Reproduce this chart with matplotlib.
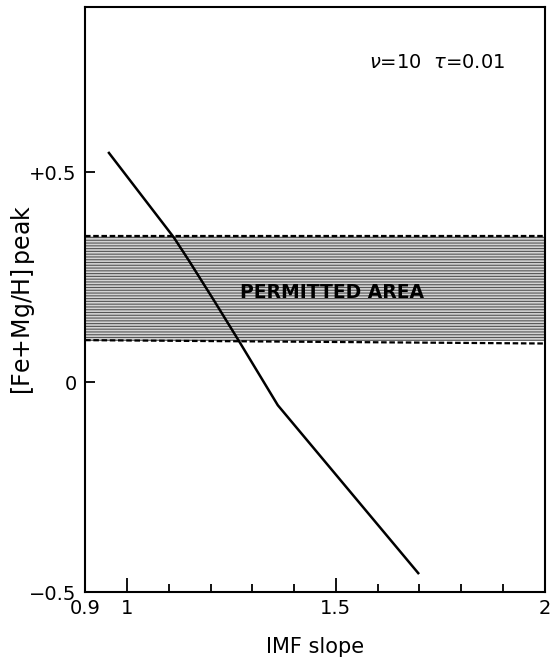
import matplotlib.pyplot as plt
import numpy as np
from matplotlib.ticker import MultipleLocator

# curve
imf_slope = [0.957, 1.112, 1.148, 1.208, 1.268, 1.361, 1.697]
fe_mg_peak = [0.546, 0.345, 0.290, 0.195, 0.098, -0.055, -0.455]

# permitted band
band_low = 0.097
band_high = 0.348

x_ticks = [0.9, 1.0, 1.5, 2.0]
x_tick_labels = ["0.9", "1", "1.5", "2"]
y_ticks = [-0.5, 0.0, 0.5]
y_tick_labels = ["\u22120.5", "0", "+0.5"]

plt.rcParams['font.family'] = ['DejaVu Sans']
plt.rcParams['hatch.color'] = '#555555'
plt.rcParams['hatch.linewidth'] = 0.8

fig = plt.figure(figsize=(5.6, 6.6), dpi=100)
ax = fig.add_axes([0.152, 0.103, 0.821, 0.886])

ax.set_xlim(0.9, 2.0)
ax.set_ylim(-0.5, 0.893)

# band with horizontal hatching
xs = np.array([0.9, 2.0])
ax.fill_between(xs, band_low, band_high, facecolor='#d4d4d4', edgecolor='none',
                hatch='------', zorder=1)
ax.plot(xs, [band_high, band_high], color='black', lw=1.6, ls=(0, (2.5, 1.2)), zorder=2)
ax.plot(xs, [band_low + 0.003, band_low - 0.005], color='black', lw=1.6,
        ls=(0, (2.5, 1.2)), zorder=2)

ax.plot(imf_slope, fe_mg_peak, color='black', lw=1.8, zorder=3)

ax.text(1.49, 0.214, "PERMITTED AREA", fontsize=13.5, fontweight='bold',
        ha='center', va='center', zorder=4)
ax.text(1.742, 0.762, r"$\nu$=10  $\tau$=0.01", fontsize=14,
        ha='center', va='center')

ax.set_xticks(x_ticks)
ax.set_xticklabels(x_tick_labels, fontsize=14)
ax.xaxis.set_minor_locator(MultipleLocator(0.1))
ax.set_yticks(y_ticks)
ax.set_yticklabels(y_tick_labels, fontsize=14)

ax.tick_params(axis='x', which='major', direction='in', length=10, width=1.3,
               pad=5, top=False)
ax.tick_params(axis='x', which='minor', direction='in', length=6, width=1.3,
               top=False)
ax.tick_params(axis='y', which='major', direction='in', length=7, width=1.3,
               pad=6, right=False)

for sp in ax.spines.values():
    sp.set_linewidth(1.5)

ax.set_xlabel("IMF slope", fontsize=15, labelpad=14)
ax.set_ylabel(r"[Fe+Mg/H]$\mathregular{\,peak}$", fontsize=17)
ax.yaxis.set_label_coords(-0.105, 0.50)

fig.savefig("out.png", dpi=100)
